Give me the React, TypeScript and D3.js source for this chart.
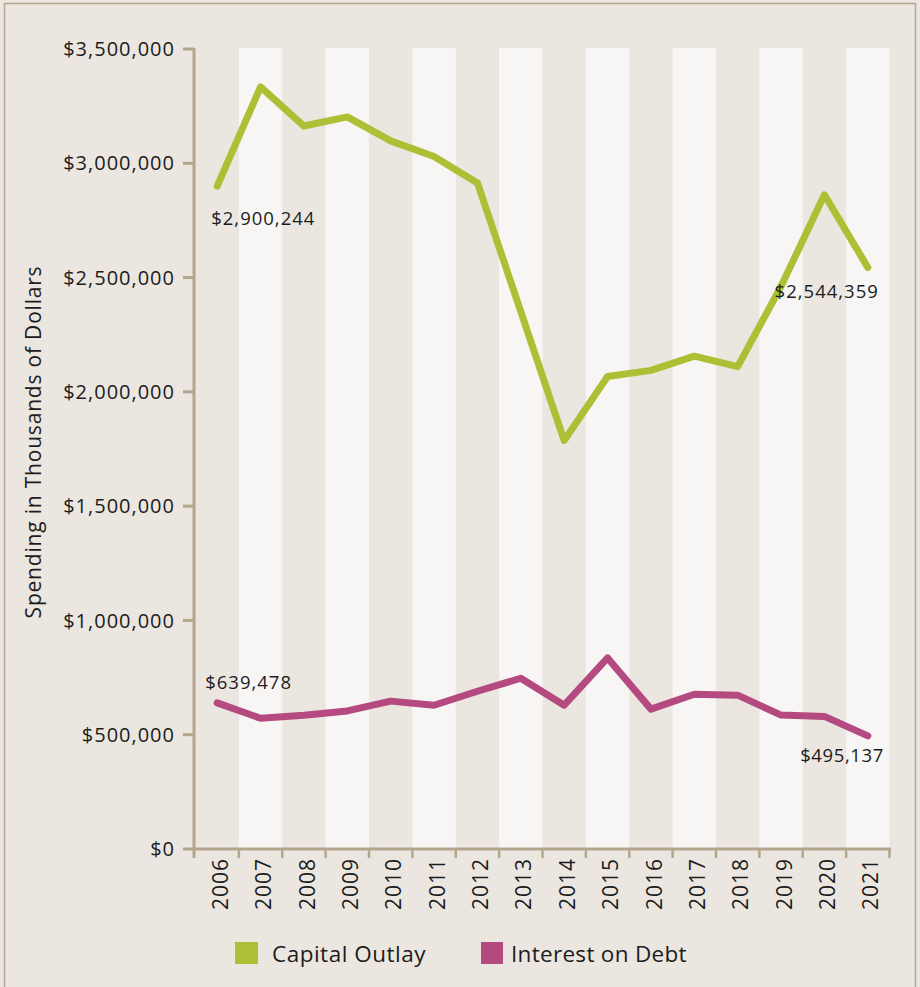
import React from "react";
import * as d3 from "d3";

// Annual spending, in thousands of dollars
const years = [2006, 2007, 2008, 2009, 2010, 2011, 2012, 2013, 2014, 2015, 2016, 2017, 2018, 2019, 2020, 2021];
const capitalOutlay = [2900244, 3334000, 3163000, 3203000, 3098000, 3030000, 2914000, 2351000, 1787000, 2067000, 2094000, 2156000, 2110000, 2462000, 2862000, 2544359];
const interestOnDebt = [639478, 572000, 585000, 604000, 647000, 629000, 690000, 747000, 629000, 836000, 612000, 677000, 673000, 586000, 580000, 495137];
const yTicks = [0, 500000, 1000000, 1500000, 2000000, 2500000, 3000000, 3500000];
const seriesNames = ["Capital Outlay", "Interest on Debt"];

const W = 920;
const H = 987;
const FONT = "'Open Sans', sans-serif";
const BG = "#ebe6e0";
const STRIPE = "#f7f6f4";
const AXIS = "#b4a68e";
const GREEN = "#adbf35";
const PINK = "#b44a80";
const TEXT = "#1c1c1c";

const money = (v: number) => "$" + d3.format(",")(v);

export default function App() {
  const x = d3.scaleBand<number>().domain(years).range([195.5, 889.5]).padding(0);
  const y = d3.scaleLinear().domain([0, 3500000]).range([849, 49]);
  const cx = (yr: number) => (x(yr) as number) + x.bandwidth() / 2;

  const line = d3
    .line<[number, number]>()
    .x((d) => cx(d[0]))
    .y((d) => y(d[1]));

  const greenPts = years.map((yr, i) => [yr, capitalOutlay[i]] as [number, number]);
  const pinkPts = years.map((yr, i) => [yr, interestOnDebt[i]] as [number, number]);

  const last = years.length - 1;
  const bottom = y(0);

  return (
    <svg
      width={W}
      height={H}
      style={{ position: "absolute", left: 0, top: 0, display: "block" }}
      fontFamily={FONT}
    >
      <rect x={0} y={0} width={W} height={H} fill={BG} />
      <rect x={4.5} y={3.5} width={911} height={H + 10} fill="none" stroke="#b3a68f" strokeWidth={1.5} />

      {/* alternating year bands */}
      {years.map((yr, i) =>
        i % 2 === 1 ? (
          <rect key={yr} x={x(yr)} y={y(3500000) - 1} width={x.bandwidth()} height={bottom - y(3500000) + 1} fill={STRIPE} />
        ) : null
      )}

      {/* y axis */}
      <line x1={194} x2={194} y1={y(3500000) - 1} y2={bottom + 9} stroke={AXIS} strokeWidth={3} />
      {yTicks.map((t) => (
        <g key={t}>
          <line x1={183} x2={194} y1={y(t)} y2={y(t)} stroke={AXIS} strokeWidth={3} />
          <text x={175} y={y(t)} dy="0.36em" textAnchor="end" fontSize={20} letterSpacing={1} fill={TEXT}>
            {money(t)}
          </text>
        </g>
      ))}

      {/* x axis */}
      <line x1={192.5} x2={891} y1={bottom} y2={bottom} stroke={AXIS} strokeWidth={3} />
      {years.slice(1).map((yr) => (
        <line key={yr} x1={x(yr)} x2={x(yr)} y1={bottom} y2={bottom + 9} stroke={AXIS} strokeWidth={2.5} />
      ))}
      <line x1={889.5} x2={889.5} y1={bottom} y2={bottom + 9} stroke={AXIS} strokeWidth={2.5} />
      {years.map((yr) => (
        <text
          key={yr}
          transform={`translate(${cx(yr) + 3},${bottom + 9}) rotate(-90)`}
          dy="0.36em"
          textAnchor="end"
          fontSize={21}
          letterSpacing={1}
          fill={TEXT}
        >
          {yr}
        </text>
      ))}

      {/* y axis title */}
      <text
        transform={`translate(33,${(y(3500000) + bottom) / 2 - 7}) rotate(-90)`}
        dy="0.36em"
        textAnchor="middle"
        fontSize={21}
        letterSpacing={0.8}
        fill={TEXT}
      >
        Spending in Thousands of Dollars
      </text>

      {/* series lines */}
      <path d={line(greenPts) || ""} fill="none" stroke={GREEN} strokeWidth={7} strokeLinejoin="round" strokeLinecap="round" />
      <path d={line(pinkPts) || ""} fill="none" stroke={PINK} strokeWidth={7} strokeLinejoin="round" strokeLinecap="round" />

      {/* end-point value labels */}
      <text x={cx(years[0]) - 6} y={y(capitalOutlay[0]) + 39} fontSize={18.5} letterSpacing={1} fill={TEXT}>
        {money(capitalOutlay[0])}
      </text>
      <text x={cx(years[last]) + 11} y={y(capitalOutlay[last]) + 31} textAnchor="end" fontSize={18.5} letterSpacing={1} fill={TEXT}>
        {money(capitalOutlay[last])}
      </text>
      <text x={cx(years[0]) - 12} y={y(interestOnDebt[0]) - 14} fontSize={18.5} letterSpacing={1} fill={TEXT}>
        {money(interestOnDebt[0])}
      </text>
      <text x={cx(years[last]) + 16} y={y(interestOnDebt[last]) + 26} textAnchor="end" fontSize={18.5} letterSpacing={0.6} fill={TEXT}>
        {money(interestOnDebt[last])}
      </text>

      {/* legend */}
      <rect x={235} y={942} width={23} height={22} fill={GREEN} />
      <text x={272} y={962} fontSize={22.5} letterSpacing={0.5} fill={TEXT}>
        {seriesNames[0]}
      </text>
      <rect x={481} y={942} width={22} height={22} fill={PINK} />
      <text x={511} y={962} fontSize={22.5} letterSpacing={0.3} fill={TEXT}>
        {seriesNames[1]}
      </text>
    </svg>
  );
}
